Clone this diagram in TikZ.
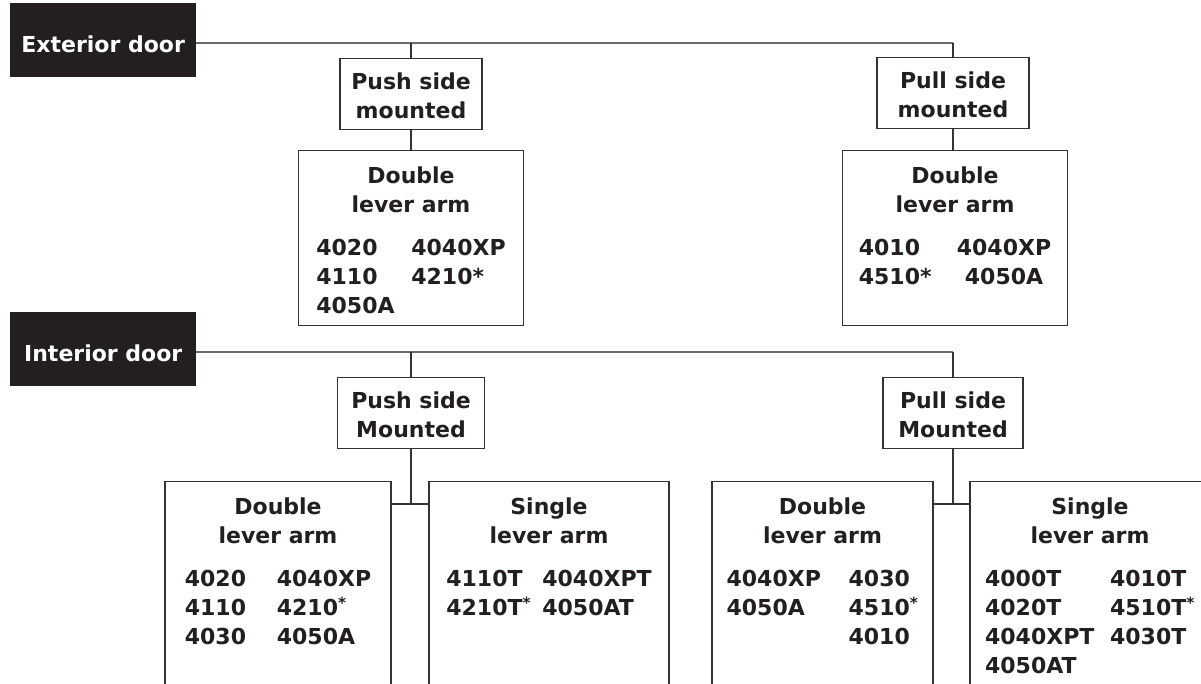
\documentclass[tikz,border=0pt]{standalone}
\usepackage{fontspec}
\setmainfont{DejaVu Sans}
\definecolor{doorblack}{HTML}{231F20}
\definecolor{trunkgray}{HTML}{6B6B6B}
\definecolor{linedark}{HTML}{333333}
\tikzset{
  door/.style={fill=doorblack, text=white, anchor=north west, minimum width=186pt, minimum height=74pt, inner sep=0pt, text height=24pt, text depth=0pt},
  side/.style={draw=linedark, line width=1.1pt, anchor=north, align=center, minimum height=71pt, inner sep=0pt, text height=49.7pt, text depth=0pt},
  arms/.style={draw=linedark, line width=1.1pt, anchor=north, inner xsep=0pt, inner ysep=16pt, text height=17pt},
  trunk/.style={trunkgray, line width=2pt},
  link/.style={linedark, line width=1.2pt}
}
\begin{document}
\begin{tikzpicture}[x=1pt, y=-1pt, font=\fontsize{22}{29}\selectfont\bfseries, text=doorblack]
        \useasboundingbox (0,0) rectangle (1201,683);
        \clip (0,0) rectangle (1201,683);
        % exterior door
        \node[door] (ext) at (10,3) {Exterior door};
        \node[side, minimum width=142pt] (extpush) at (411,58) {Push side\\mounted};
        \node[side, minimum width=152pt] (extpull) at (953,57) {Pull side\\mounted};
        \node[arms, minimum width=225pt, text depth=126pt] (extpushdbl) at (411,150) {\begin{tabular}[t]{@{}c@{}}Double\\lever arm\\[14pt]
            \begin{tabular}[t]{@{}p{95pt}@{}l@{}}4020&4040XP\\4110&4210*\\4050A&\end{tabular}\end{tabular}};
        \node[arms, minimum width=225pt, text depth=126pt] (extpulldbl) at (955,150) {\begin{tabular}[t]{@{}c@{}}Double\\lever arm\\[14pt]
            \begin{tabular}[t]{@{}p{98pt}@{}c@{}}4010&4040XP\\4510*&4050A\end{tabular}\end{tabular}};
        \coordinate (extjoin) at ([yshift=-3pt]ext.east);
        \draw[trunk] (extjoin) -- (extjoin -| extpull.north);
        \draw[link] (extpush.north) -- (extpush.north |- extjoin);
        \draw[link] (extpull.north) -- (extpull.north |- extjoin);
        \draw[link] (extpush.south) -- (extpushdbl.north);
        \draw[link] (extpull.south) -- (extpull.south |- extpulldbl.north);
        % interior door
        \node[door] (int) at (10,312) {Interior door};
        \node[side, minimum width=147pt] (intpush) at (411,377) {Push side\\Mounted};
        \node[side, minimum width=140pt] (intpull) at (953,377) {Pull side\\Mounted};
        \node[arms, minimum width=226pt, text depth=170pt] (intpushdbl) at (278,481) {\begin{tabular}[t]{@{}c@{}}Double\\lever arm\\[14pt]
            \begin{tabular}[t]{@{}p{92pt}@{}l@{}}4020&4040XP\\4110&4210\textsuperscript{*}\\4030&4050A\end{tabular}\end{tabular}};
        \node[arms, minimum width=240pt, text depth=170pt] (intpushsgl) at (549,481) {\begin{tabular}[t]{@{}c@{}}Single\\lever arm\\[14pt]
            \begin{tabular}[t]{@{}p{96pt}@{}l@{}}4110T&4040XPT\\4210T\textsuperscript{*}&4050AT\end{tabular}\end{tabular}};
        \node[arms, minimum width=221pt, text depth=170pt] (intpulldbl) at (822.5,481) {\begin{tabular}[t]{@{}c@{}}Double\\lever arm\\[14pt]
            \begin{tabular}[t]{@{}p{122pt}@{}l@{}}4040XP&4030\\4050A&4510\textsuperscript{*}\\&4010\end{tabular}\end{tabular}};
        \node[arms, minimum width=240pt, text depth=170pt] (intpullsgl) at (1090,481) {\begin{tabular}[t]{@{}c@{}}Single\\lever arm\\[14pt]
            \begin{tabular}[t]{@{}p{125pt}@{}l@{}}4000T&4010T\\4020T&4510T\textsuperscript{*}\\4040XPT&4030T\\4050AT&\end{tabular}\end{tabular}};
        \coordinate (intjoin) at ([yshift=-3pt]int.east);
        \coordinate (pushjoin) at (411,504);
        \coordinate (pulljoin) at (953,504);
        \draw[trunk] (intjoin) -- (intjoin -| intpull.north);
        \draw[link] (intpush.north) -- (intpush.north |- intjoin);
        \draw[link] (intpull.north) -- (intpull.north |- intjoin);
        \draw[link] (intpush.south) -- (pushjoin);
        \draw[link] (intpull.south) -- (pulljoin);
        \draw[link] (intpushdbl.east |- pushjoin) -- (intpushsgl.west |- pushjoin);
        \draw[link] (intpulldbl.east |- pulljoin) -- (intpullsgl.west |- pulljoin);
\end{tikzpicture}
\end{document}
